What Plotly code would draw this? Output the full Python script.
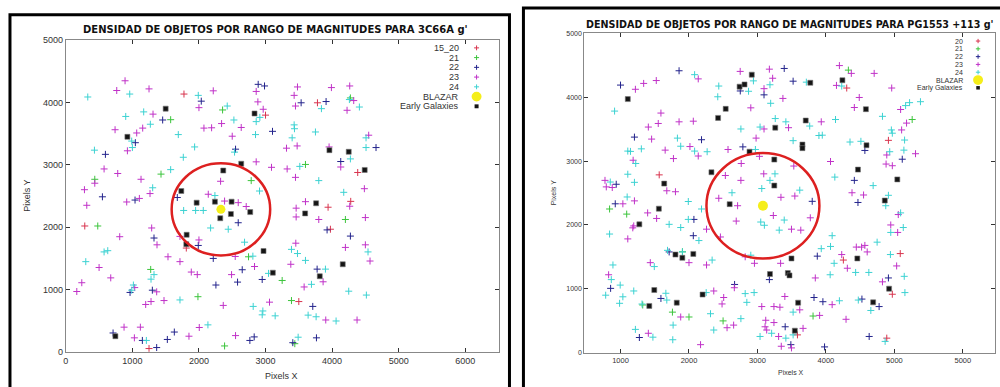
import plotly.graph_objects as go

# ---------------- LEFT PANEL: 3C66A ----------------
L_title = "DENSIDAD DE OBJETOS POR RANGO DE MAGNITUDES PARA 3C66A g'"
L_labels = ["15_20", "21", "22", "23", "24", "BLAZAR", "Early Galaxies"]
L_xticks = [0, 1000, 2000, 3000, 4000, 5000, 6000]
L_yticks = [0, 1000, 2000, 3000, 4000, 5000]

L_red_x = [1775, 3780, 3000, 4385, 3940, 4280, 285, 3975, 1810, 3500, 1250]
L_red_y = [4134, 3994, 3796, 2876, 2319, 2413, 2018, 1966, 1664, 806, 52]

L_green_x = [2355, 1575, 4275, 3600, 1430, 435, 2785, 4200, 480, 2745, 1275, 3250, 1985, 3390, 3440, 2385]
L_green_y = [3879, 3723, 4072, 3005, 2850, 2767, 2746, 2122, 2018, 1524, 1321, 1144, 884, 822, 130, 94]

L_blue_x = [2035, 2890, 2985, 3535, 3910, 1455, 3105, 1045, 4660, 595, 2550, 4130, 550, 1040, 1675, 2590,
            3925, 1325, 4275, 1990, 2215, 2650, 3775, 2950, 2580, 2255, 965, 1300, 3710, 1630, 710, 1150,
            1525, 2765, 2830, 3410, 3765, 1365]
L_blue_y = [4020, 4290, 4264, 3994, 4014, 3718, 3536, 3354, 3276, 3167, 3250, 3052, 2486, 2434, 2475, 2070,
            1955, 1825, 1856, 1706, 1498, 1316, 1326, 1160, 1118, 1071, 952, 988, 728, 317, 302, 182,
            198, 182, 239, 146, 224, 68]

L_mag_x = [890, 765, 1250, 2215, 2860, 2885, 3480, 3430, 3990, 4265, 3450, 4325, 4225, 2000, 2965, 1310,
           740, 1155, 1065, 2075, 2190, 2340, 2635, 2500, 4550, 3315, 3475, 3955, 925, 2860, 4130, 575,
           780, 3090, 3325, 3450, 435, 1130, 2325, 280, 315, 1265, 1105, 915, 2140, 2385, 2590, 2710,
           3460, 3600, 3460, 4265, 4485, 4500, 3800, 1290, 810, 1715, 1370, 2000, 3455, 4200, 4500, 1535,
           2545, 1715, 4570, 500, 3380, 2835, 1885, 1975, 2490, 675, 3865, 240, 165, 1035, 1365, 3580,
           1475, 1280, 1200, 3060, 2365, 3905, 4375, 875, 1120, 2005, 1030, 1850, 2550]
L_mag_y = [4347, 4191, 4217, 4186, 4176, 4009, 4248, 4113, 4238, 4264, 3942, 4030, 3874, 3916, 3890, 3812,
           3562, 3588, 3510, 3588, 3593, 3661, 3598, 3458, 3474, 3266, 3302, 3286, 3224, 3047, 2964, 2933,
           2860, 2959, 2933, 2798, 2704, 2767, 2735, 2600, 2350, 2538, 2460, 2403, 2527, 2418, 2392, 2330,
           2304, 2408, 2163, 2335, 2616, 2153, 2122, 1986, 1846, 1851, 1716, 1794, 1742, 1674, 1716, 1524,
           1529, 1446, 1456, 1352, 1404, 1368, 1279, 1238, 1238, 1186, 1123, 1108, 967, 1030, 962, 1040,
           822, 806, 759, 796, 744, 510, 510, 395, 395, 390, 224, 250, 260]

L_cyan_x = [960, 1990, 330, 4260, 4410, 3840, 2425, 1170, 900, 1270, 2525, 2860, 2915, 3430, 3435, 3750,
            990, 1000, 1690, 2850, 3400, 4510, 4510, 4275, 430, 1935, 2535, 1765, 3515, 1575, 3800, 2910,
            1305, 2240, 1770, 1950, 2065, 4175, 2175, 2440, 2685, 4540, 575, 630, 300, 3390, 3480, 2810,
            3600, 3900, 3045, 1325, 1280, 3690, 1015, 990, 4250, 4515, 1715, 2815, 2960, 2950, 3145, 3640,
            3760, 4060, 2135, 1210, 3490]
L_cyan_y = [4134, 4113, 4087, 4046, 3926, 3900, 3942, 3848, 3775, 3650, 3718, 3692, 3760, 3640, 3578, 3526,
            3380, 3276, 3484, 3484, 3432, 3432, 3276, 3094, 3234, 3286, 3203, 3120, 2974, 2922, 2746, 2579,
            2631, 2506, 2267, 2267, 2267, 2558, 1986, 1966, 1758, 1602, 1602, 1622, 1446, 1643, 1576, 1534,
            1466, 1326, 1258, 1238, 1165, 1082, 1071, 988, 972, 910, 832, 728, 655, 593, 577, 588,
            562, 494, 432, 182, 234]

L_gal_x = [1500, 2835, 925, 3960, 4250, 2635, 4490, 2365, 1735, 1965, 2240, 2490, 2770, 2320, 2480, 3760,
           3595, 1815, 1810, 2970, 4160, 3110, 3815, 745]
L_gal_y = [3900, 3822, 3448, 3234, 3208, 3016, 2917, 2907, 2579, 2392, 2408, 2408, 2241, 2142, 2210, 2382,
           2220, 1877, 1726, 1617, 1404, 1269, 1212, 250]

L_blazar = [2330, 2285]
L_radius = 740

# ---------------- RIGHT PANEL: PG1553 +113 ----------------
R_title = "DENSIDAD DE OBJETOS POR RANGO DE MAGNITUDES PARA PG1553 +113 g'"
R_labels = ["20", "21", "22", "23", "24", "BLAZAR", "Early Galaxies"]
R_xticks = [1000, 2000, 3000, 4000, 5000, 6000]
R_xticktext = ["1000", "2000", "3000", "4000", "5000", "5000"]
R_yticks = [0, 1000, 2000, 3000, 4000, 5000]

R_red_x = [4304, 4913, 1565, 4970, 5086, 4255, 4889, 3584]
R_red_y = [4143, 3324, 2784, 916, 1552, 1451, 229, 280]

R_green_x = [4328, 5260, 840, 1090, 2000, 1758, 1324, 2498, 3812, 1905]
R_green_y = [4423, 3650, 2250, 2170, 560, 636, 748, 499, 575, 1580]

R_blue_x = [1855, 3391, 3521, 1000, 2749, 3096, 1203, 2183, 2787, 4569, 5115, 937, 4415, 4468, 923, 2072,
            2063, 1710, 3874, 3174, 855, 1590, 2666, 3826, 3956, 4526, 4777, 4913, 4632, 3405, 3488, 3980,
            1275, 3800]
R_blue_y = [4413, 4449, 4250, 4189, 4097, 4036, 3375, 3334, 3222, 3166, 3029, 2637, 2698, 2352, 2331, 2087,
            1832, 1578, 1512, 1145, 1008, 850, 1069, 865, 799, 840, 723, 1171, 255, 407, 127, 92,
            239, 2370]

R_mag_x = [2135, 2748, 3174, 3222, 1338, 1522, 1217, 3096, 4197, 4371, 4705, 4154, 4961, 3372, 4487, 4415,
           5091, 5178, 5106, 2903, 3454, 3932, 1590, 1406, 1551, 1855, 2063, 3096, 1454, 2014, 2980, 3029,
           4889, 4970, 5309, 4879, 1184, 1652, 1773, 2135, 2570, 4067, 2531, 2763, 2758, 3092, 3531, 4381,
           4550, 5057, 4947, 5048, 773, 792, 879, 1676, 1802, 1034, 1203, 1396, 1527, 2435, 2710, 3343,
           3546, 3772, 3232, 2690, 1179, 1193, 1106, 2256, 2459, 3497, 3633, 4231, 4444, 4521, 4569, 4603,
           2000, 1435, 2256, 2821, 2956, 3338, 4313, 5033, 3845, 826, 2362, 2662, 2483, 2507, 3400, 3618,
           4091, 4826, 4294, 3908, 3666, 3309, 3348, 3497, 3135, 3121, 3111, 3241, 3063, 3241, 3328, 2652,
           2556, 2169, 1879, 1406]
R_mag_y = [4286, 4403, 4438, 4296, 4215, 4260, 4123, 4133, 4494, 4372, 4372, 4184, 4143, 3980, 3995, 3838,
           3807, 3594, 3487, 3833, 3522, 3614, 3751, 3532, 3588, 3614, 3624, 3502, 3344, 3227, 3359, 3074,
           3095, 2927, 3115, 2953, 3013, 3171, 3039, 3079, 3181, 2993, 2774, 2962, 2698, 2800, 2922, 2504,
           2469, 2163, 2000, 1883, 2698, 2596, 2586, 2535, 2520, 2331, 2377, 2189, 2102, 2418, 2301, 2433,
           2453, 2112, 2148, 2061, 1955, 1985, 1782, 1934, 1812, 1934, 1919, 1537, 1654, 1654, 1680, 1578,
           1410, 1410, 1374, 1502, 1400, 1400, 1323, 1359, 1171, 1221, 967, 1018, 764, 865, 881, 672,
           753, 1110, 524, 585, 382, 255, 102, 76, 356, 509, 407, 473, 723, 723, 713, 433,
           392, 127, 560, 305]

R_cyan_x = [2082, 2941, 913, 2435, 2420, 2870, 3183, 3714, 4231, 5222, 5164, 5381, 4826, 4956, 4970, 5149,
            3193, 3260, 3415, 3763, 3898, 3947, 4140, 2758, 3038, 1831, 1879, 2970, 3521, 4511, 4352, 4932,
            5139, 1106, 1145, 1222, 1304, 2082, 2265, 3256, 3183, 4130, 4690, 4874, 4913, 5091, 5130, 4947,
            1106, 850, 1203, 1097, 1990, 2183, 2628, 3063, 3618, 3391, 3048, 3101, 3318, 1990, 1879, 1710,
            840, 2145, 4091, 4067, 3932, 4748, 4942, 1686, 1903, 2338, 1493, 2903, 4120, 4627, 4434, 5144,
            4062, 889, 865, 995, 1193, 1662, 1676, 2251, 2821, 2951, 2845, 4197, 4473, 4656, 5154, 4865,
            3521, 3207, 3038, 3415, 3521, 2758, 2314, 2362, 1768, 1763, 1473, 1217, 1314, 986, 783, 1034]
R_cyan_y = [4352, 4255, 3782, 4174, 4006, 4092, 4194, 4235, 4174, 3914, 3868, 3929, 3700, 3487, 3436, 3329,
            3904, 3665, 3614, 3548, 3400, 3405, 3650, 3502, 3532, 3359, 3232, 3181, 3319, 3309, 3298, 3146,
            3171, 3156, 3151, 2962, 3191, 3156, 3146, 2800, 2698, 2749, 2616, 2301, 2464, 2189, 1960, 1883,
            2794, 2672, 2667, 2438, 2367, 2250, 2504, 2570, 2545, 2077, 2046, 1995, 1919, 2087, 1960, 2010,
            1858, 1756, 1832, 1664, 1629, 1731, 1537, 1603, 1578, 1451, 1349, 1527, 1400, 1257, 1257, 1196,
            1221, 1374, 1145, 1059, 967, 931, 825, 942, 926, 942, 789, 814, 825, 662, 942, 178,
            280, 305, 255, 229, 636, 534, 611, 356, 433, 204, 244, 366, 763, 774, 901, 876]

R_gal_x = [2917, 1106, 2739, 2811, 3772, 4241, 4584, 2536, 2425, 3260, 3705, 2884, 3246, 3657, 3657, 4593,
           2328, 3246, 4468, 5043, 4860, 1638, 1560, 2594, 1802, 1903, 2063, 3497, 4459, 3183, 3444, 3468,
           1493, 1821, 2198, 3594, 4690, 4923, 3546, 1420, 1275]
R_gal_y = [4352, 3970, 4164, 4199, 4225, 4265, 3812, 3817, 3675, 3522, 3634, 3146, 3023, 3258, 3202, 3247,
           2825, 2616, 2866, 2713, 2382, 2647, 2255, 2326, 1537, 1486, 1547, 1476, 1476, 1232, 1247, 1211,
           982, 784, 911, 784, 789, 1003, 346, 733, 2010]

R_blazar = [3080, 2300]
R_radius = 825

# ---------------- STYLE ----------------
COLORS = ["#d8344e", "#3cc43c", "#23238c", "#c032c8", "#3cd2d2"]
YELLOW = "#f5ee1a"
W, H = 1000, 387

fig = go.Figure()

def add_panel(xa, ya, series, gal, blazar, msize, bsize, gsize):
    for (xs, ys), col in zip(series, COLORS):
        fig.add_trace(go.Scatter(x=xs, y=ys, mode="markers", xaxis=xa, yaxis=ya, showlegend=False,
                                 marker=dict(symbol="cross-thin", size=msize, color=col,
                                             line=dict(color=col, width=1))))
    fig.add_trace(go.Scatter(x=gal[0], y=gal[1], mode="markers", xaxis=xa, yaxis=ya, showlegend=False,
                             marker=dict(symbol="square", size=gsize, color="#151515",
                                         line=dict(color="#777777", width=0.6))))
    fig.add_trace(go.Scatter(x=[blazar[0]], y=[blazar[1]], mode="markers", xaxis=xa, yaxis=ya,
                             showlegend=False, marker=dict(symbol="circle", size=bsize, color=YELLOW)))

add_panel("x", "y",
          [(L_red_x, L_red_y), (L_green_x, L_green_y), (L_blue_x, L_blue_y), (L_mag_x, L_mag_y), (L_cyan_x, L_cyan_y)],
          (L_gal_x, L_gal_y), L_blazar, 5, 9, 5)
add_panel("x2", "y2",
          [(R_red_x, R_red_y), (R_green_x, R_green_y), (R_blue_x, R_blue_y), (R_mag_x, R_mag_y), (R_cyan_x, R_cyan_y)],
          (R_gal_x, R_gal_y), R_blazar, 5, 10, 5)

def px(x):
    return x / W

def py(y):
    return 1 - y / H

shapes = [
    dict(type="circle", xref="x", yref="y", x0=L_blazar[0] - L_radius, x1=L_blazar[0] + L_radius,
         y0=L_blazar[1] - L_radius, y1=L_blazar[1] + L_radius, line=dict(color="#dd2020", width=2.5)),
    dict(type="circle", xref="x2", yref="y2", x0=R_blazar[0] - R_radius, x1=R_blazar[0] + R_radius,
         y0=R_blazar[1] - R_radius, y1=R_blazar[1] + R_radius, line=dict(color="#dd2020", width=2.5)),
    dict(type="rect", xref="paper", yref="paper", x0=px(7), x1=px(508), y0=py(400), y1=py(10),
         line=dict(color="#000000", width=3)),
    dict(type="rect", xref="paper", yref="paper", x0=px(522), x1=px(1010), y0=py(400), y1=py(3),
         line=dict(color="#000000", width=3)),
]

ann = []
FONT = "Liberation Sans, Arial, sans-serif"
ann.append(dict(text=L_title, x=px(273), y=py(25), xref="paper", yref="paper", showarrow=False,
                font=dict(family="DejaVu Sans", size=10, color="#111", weight="bold"),
                xanchor="center", yanchor="middle"))
ann.append(dict(text=R_title, x=px(789), y=py(20), xref="paper", yref="paper", showarrow=False,
                font=dict(family="DejaVu Sans", size=9.6, color="#111", weight="bold"),
                xanchor="center", yanchor="middle"))
ann.append(dict(text="Pixels X", x=px(279), y=py(381), xref="paper", yref="paper", showarrow=False,
                font=dict(family=FONT, size=9, color="#333"), xanchor="center", yanchor="middle"))
ann.append(dict(text="Pixels Y", x=px(24), y=py(196), xref="paper", yref="paper", showarrow=False, textangle=-90,
                font=dict(family=FONT, size=9, color="#333"), xanchor="center", yanchor="middle"))
ann.append(dict(text="Pixels X", x=px(790), y=py(377), xref="paper", yref="paper", showarrow=False,
                font=dict(family=FONT, size=7, color="#333"), xanchor="center", yanchor="middle"))
ann.append(dict(text="Pixels Y", x=px(552), y=py(193), xref="paper", yref="paper", showarrow=False, textangle=-90,
                font=dict(family=FONT, size=7, color="#333"), xanchor="center", yanchor="middle"))

def legend(labels, tx, mx, y0, dy, fsize, half, brad, gsq):
    for i, lab in enumerate(labels):
        yc = y0 + i * dy
        ann.append(dict(text=lab, x=px(tx), y=py(yc), xref="paper", yref="paper", showarrow=False,
                        font=dict(family=FONT, size=fsize, color="#333"), xanchor="right", yanchor="middle"))
        if i < 5:
            col = COLORS[i]
            shapes.append(dict(type="line", xref="paper", yref="paper", x0=px(mx - half), x1=px(mx + half),
                               y0=py(yc), y1=py(yc), line=dict(color=col, width=1)))
            shapes.append(dict(type="line", xref="paper", yref="paper", x0=px(mx), x1=px(mx),
                               y0=py(yc - half), y1=py(yc + half), line=dict(color=col, width=1)))
        elif i == 5:
            shapes.append(dict(type="circle", xref="paper", yref="paper", x0=px(mx - brad), x1=px(mx + brad),
                               y0=py(yc + brad), y1=py(yc - brad), fillcolor=YELLOW, line=dict(width=0)))
        else:
            shapes.append(dict(type="rect", xref="paper", yref="paper", x0=px(mx - gsq), x1=px(mx + gsq),
                               y0=py(yc + gsq), y1=py(yc - gsq), fillcolor="#151515", line=dict(width=0)))

legend(L_labels, 459, 475, 44, 10, 9, 2.5, 5, 2)
legend(R_labels, 965, 978, 37, 8, 7, 2.2, 5, 1.8)

axis_common = dict(showgrid=False, zeroline=False, showline=True, linecolor="#888888", linewidth=1,
                   mirror="ticks", ticks="inside", ticklen=4, tickcolor="#333333")

fig.update_layout(
    width=W, height=H, margin=dict(l=0, r=0, t=0, b=0),
    paper_bgcolor="white", plot_bgcolor="white",
    shapes=shapes, annotations=ann,
    xaxis=dict(domain=[px(63), px(497)], range=[0, 6500], tickvals=L_xticks, anchor="y",
               tickfont=dict(family=FONT, size=9, color="#333"), **axis_common),
    yaxis=dict(domain=[py(356), py(36)], range=[0, 5000], tickvals=L_yticks, anchor="x",
               tickfont=dict(family=FONT, size=9, color="#333"), **axis_common),
    xaxis2=dict(domain=[px(583), px(995)], range=[470, 6470], tickvals=R_xticks, ticktext=R_xticktext,
                anchor="y2", tickfont=dict(family=FONT, size=7.5, color="#333"), **axis_common),
    yaxis2=dict(domain=[py(357), py(29)], range=[0, 5000], tickvals=R_yticks, anchor="x2",
                tickfont=dict(family=FONT, size=7, color="#333"), **axis_common),
)

fig.write_html("out.html", config={"displayModeBar": False},
               post_script="document.body.style.margin='0';document.body.style.overflow='hidden';")
